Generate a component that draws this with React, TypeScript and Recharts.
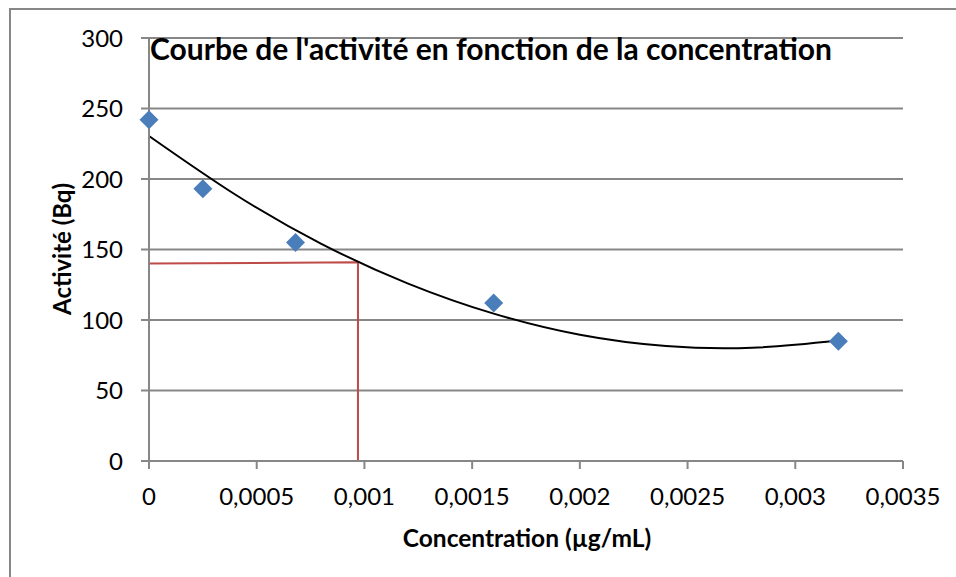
import React from 'react';
import { ComposedChart, Scatter, Line, XAxis, YAxis, CartesianGrid } from 'recharts';

// measured points (concentration µg/mL, activité Bq)
const concentration = [0, 0.00025, 0.00068, 0.0016, 0.0032];
const activite = [242, 193, 155, 112, 85];

// polynomial trend curve
const trendX = [0, 0.0004, 0.0008, 0.0012, 0.0016, 0.002, 0.0024, 0.0028, 0.0032];
const trendY = [230.5, 189, 154, 126, 104.5, 89.5, 81.5, 80.3, 85.5];

// red reading lines (activity 140 -> concentration ~0.00097)
const readX = [0, 0.00097, 0.00097];
const readY = [140, 141, 0];

const xTicks = [0, 0.0005, 0.001, 0.0015, 0.002, 0.0025, 0.003, 0.0035];
const yTicks = [0, 50, 100, 150, 200, 250, 300];

const points = concentration.map((x, i) => ({ x, y: activite[i] }));
const trend = trendX.map((x, i) => ({ x, y: trendY[i] }));
const reading = readX.map((x, i) => ({ x, y: readY[i] }));

const FONT = 'Lato, "Open Sans", sans-serif';
const GRID = '#878787';

const Diamond = (props: any) => {
  const { cx, cy } = props;
  const r = 9.5;
  return (
    <polygon
      points={`${cx},${cy - r} ${cx + r},${cy} ${cx},${cy + r} ${cx - r},${cy}`}
      fill="#4A7EBB"
    />
  );
};

const fmt = (v: number) => String(v).replace('.', ',');

export default function App() {
  return (
    <div style={{ position: 'absolute', left: 0, top: 0, width: 956, height: 577, background: '#fff', overflow: 'hidden' }}>
      <div
        style={{
          position: 'absolute',
          left: 9,
          top: 8,
          width: 1000,
          height: 700,
          borderLeft: `2px solid ${GRID}`,
          borderTop: `2px solid ${GRID}`,
        }}
      />
      <ComposedChart
        width={956}
        height={577}
        margin={{ top: 38, right: 53, left: 0, bottom: 0 }}
        style={{ position: 'absolute', left: 0, top: 0 }}
      >
        <CartesianGrid vertical={false} stroke={GRID} strokeWidth={2} />
        <XAxis
          type="number"
          dataKey="x"
          domain={[0, 0.0035]}
          ticks={xTicks}
          tickFormatter={fmt}
          height={116}
          stroke={GRID}
          strokeWidth={2}
          tickSize={8}
          tickMargin={19}
          tick={{ fill: '#000', fontSize: 24, fontFamily: FONT }}
          label={{
            content: () => (
              <text x={527} y={537} textAnchor="middle" dominantBaseline="central" fontFamily={FONT} fontWeight={700} fontSize={24.5} fill="#000">
                Concentration (µg/mL)
              </text>
            ),
          }}
        />
        <YAxis
          type="number"
          dataKey="y"
          domain={[0, 300]}
          ticks={yTicks}
          width={149}
          stroke={GRID}
          strokeWidth={2}
          tickSize={8}
          tickMargin={18}
          tick={{ fill: '#000', fontSize: 24, fontFamily: FONT }}
          label={{
            content: () => (
              <text x={61} y={249} transform="rotate(-90 61 249)" textAnchor="middle" dominantBaseline="central" fontFamily={FONT} fontWeight={700} fontSize={24} fill="#000">
                Activité (Bq)
              </text>
            ),
          }}
        />
        <Line data={reading} dataKey="y" type="linear" stroke="#BE4B48" strokeWidth={2} dot={false} isAnimationActive={false} />
        <Line data={trend} dataKey="y" type="natural" stroke="#000" strokeWidth={2} dot={false} isAnimationActive={false} />
        <Scatter data={points} dataKey="y" shape={Diamond} isAnimationActive={false} />
      </ComposedChart>
      <div
        style={{
          position: 'absolute',
          left: 150,
          top: 30,
          fontFamily: FONT,
          fontWeight: 700,
          fontSize: 30,
          lineHeight: '36px',
          whiteSpace: 'nowrap',
          color: '#000',
        }}
      >
        Courbe de l'activité en fonction de la concentration
      </div>
    </div>
  );
}
